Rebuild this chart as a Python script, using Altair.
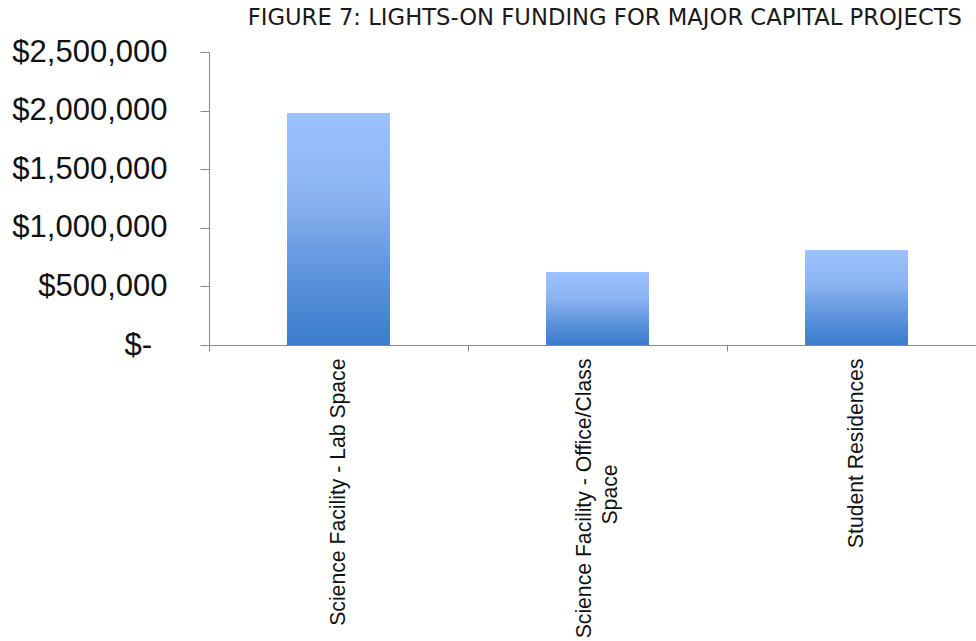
import altair as alt
import pandas as pd

projects = [
    "Science Facility - Lab Space",
    "Science Facility - Office/Class|Space" + "\u2002" * 10 + "\u200b",
    "Student Residences",
]
funding = [1980000, 623000, 810000]
y_ticks = [0, 500000, 1000000, 1500000, 2000000, 2500000]

df = pd.DataFrame({"project": projects, "funding": funding})

grad = alt.Gradient(
    gradient="linear",
    x1=0, x2=0, y1=0, y2=1,
    stops=[
        alt.GradientStop(color="#9cc2ff", offset=0),
        alt.GradientStop(color="#8db4f2", offset=0.35),
        alt.GradientStop(color="#5c93dd", offset=0.7),
        alt.GradientStop(color="#3b7bcc", offset=1),
    ],
)

chart = (
    alt.Chart(df)
    .mark_bar(size=103, color=grad)
    .encode(
        x=alt.X(
            "project:N",
            sort=projects,
            scale=alt.Scale(range=[0, 777], paddingInner=0, paddingOuter=0),
            axis=alt.Axis(
                title=None,
                labelAngle=-90,
                labelAlign="right",
                labelBaseline="middle",
                bandPosition=0,
                labelExpr="split(datum.label, '|')",
                labelOffset={
                    "condition": {"test": "indexof(datum.label, 'Office') >= 0", "value": -13},
                    "value": 0,
                },
                labelFont="Liberation Sans",
                labelFontSize=21.2,
                labelColor="#111",
                labelPadding=7,
                labelLimit=0,
                labelLineHeight=26,
                tickSize=6,
                tickColor="#888",
                domainColor="#888",
                labelOverlap=False,
            ),
        ),
        y=alt.Y(
            "funding:Q",
            scale=alt.Scale(domain=[0, 2500000], nice=False),
            axis=alt.Axis(
                title=None,
                values=y_ticks,
                labelExpr="datum.value == 0 ? '$-\u2002\u200b' : '$' + format(datum.value, ',')",
                labelFont="Liberation Sans",
                labelFontSize=31,
                labelColor="#111",
                labelPadding=33,
                tickSize=9,
                tickColor="#888",
                domainColor="#888",
                grid=False,
            ),
        ),
    )
    .properties(
        width=767,
        height=293,
        autosize=alt.AutoSizeParams(type="none"),
        padding={"left": 209, "top": 52, "right": 0, "bottom": 296},
        title=alt.TitleParams(
            text="FIGURE 7: LIGHTS-ON FUNDING FOR MAJOR CAPITAL PROJECTS",
            anchor="end",
            frame="group",
            font="DejaVu Sans",
            fontSize=22.7,
            fontWeight="normal",
            color="#1a1a1a",
            dx=-14,
            dy=12,
            baseline="alphabetic",
            offset=0,
        ),
    )
    .configure_view(stroke=None)
)

chart.save("out.html", embed_options={"renderer": "svg", "actions": False})
